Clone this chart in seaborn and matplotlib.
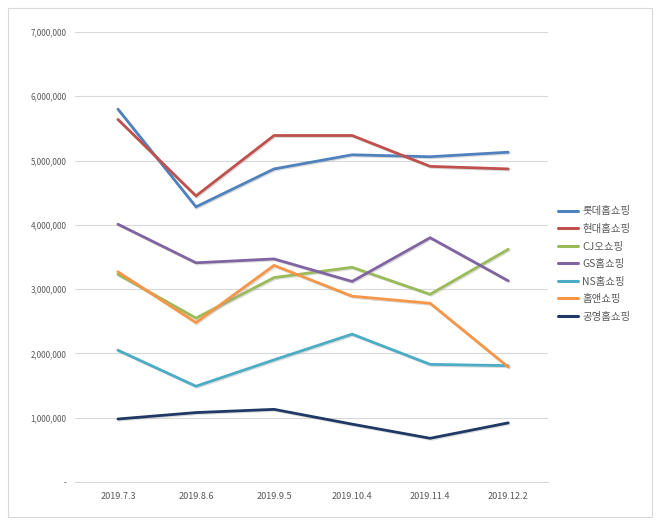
import pandas as pd
import numpy as np
import matplotlib
matplotlib.use("Agg")
import matplotlib.pyplot as plt
import matplotlib.patheffects as pe
from matplotlib.patches import Rectangle
from matplotlib.ticker import FuncFormatter
import seaborn as sns

# dates on the x axis and one list of values per shopping channel
dates = ['2019.7.3', '2019.8.6', '2019.9.5', '2019.10.4', '2019.11.4', '2019.12.2']
lotte = [5800000, 4280000, 4870000, 5090000, 5060000, 5130000]
hyundai = [5640000, 4450000, 5390000, 5390000, 4910000, 4870000]
cj = [3230000, 2550000, 3180000, 3340000, 2920000, 3620000]
gs = [4010000, 3410000, 3470000, 3120000, 3800000, 3130000]
ns = [2050000, 1490000, 1900000, 2300000, 1830000, 1810000]
homeand = [3270000, 2480000, 3370000, 2890000, 2780000, 1790000]
gongyoung = [980000, 1080000, 1130000, 900000, 680000, 920000]

names = ['롯데홈쇼핑', '현대홈쇼핑', 'CJ오쇼핑', 'GS홈쇼핑', 'NS홈쇼핑', '홈앤쇼핑', '공영홈쇼핑']
series = [lotte, hyundai, cj, gs, ns, homeand, gongyoung]
colors = ['#4F81BD', '#C0504D', '#9BBB59', '#8064A2', '#4BACC6', '#F79646', '#1F3864']

rows = []
for name, vals in zip(names, series):
    for d, v in zip(dates, vals):
        rows.append({'date': d, 'value': v, 'channel': name})
df = pd.DataFrame(rows)

sns.set_style("white")
plt.rcParams['font.family'] = ['Noto Sans CJK KR', 'DejaVu Sans']

fig = plt.figure(figsize=(6.6, 5.25), dpi=100)
ax = fig.add_axes([75/660, 1-482/525, (548-75)/660, (482-32)/525])

sns.lineplot(data=df, x='date', y='value', hue='channel', hue_order=names,
             palette=colors, linewidth=2.0, ax=ax, sort=False)

# a soft shadow like the Excel original
for line in ax.lines:
    line.set_path_effects([pe.SimpleLineShadow(offset=(0.8, -0.8), shadow_color='#999999', alpha=0.35),
                           pe.Normal()])
    line.set_solid_joinstyle('miter')

ax.set_ylim(0, 7000000)
ax.set_yticks(np.arange(0, 7000001, 1000000))
ax.yaxis.set_major_formatter(FuncFormatter(lambda v, p: '-' if v == 0 else f'{int(v):,}'))
ax.set_xlim(-0.55, 5.51)
ax.grid(axis='y', color='#D9D9D9', linewidth=0.8)
ax.set_axisbelow(True)
for s in ['top', 'right', 'left']:
    ax.spines[s].set_visible(False)
ax.spines['bottom'].set_color('#D9D9D9')
ax.tick_params(axis='both', length=0, colors='#595959')
ax.tick_params(axis='x', labelsize=6.6, pad=7)
ax.tick_params(axis='y', labelsize=5.8, pad=6)
ax.set_xlabel('')
ax.set_ylabel('')

leg = ax.legend(loc='center left', bbox_to_anchor=(549/660, 1-264/525), bbox_transform=fig.transFigure,
                frameon=False, fontsize=7.5, handlelength=1.9, labelspacing=0.72, handletextpad=0.4)
for t in leg.get_texts():
    t.set_color('#595959')
for h in leg.get_lines():
    h.set_linewidth(2.2)
    h.set_path_effects([])

# outer frame of the chart
fig.patches.append(Rectangle((8/660, 8/525), 644/660, 509/525, transform=fig.transFigure,
                             fill=False, edgecolor='#D9D9D9', linewidth=0.8))

plt.savefig('out.png', dpi=100)
